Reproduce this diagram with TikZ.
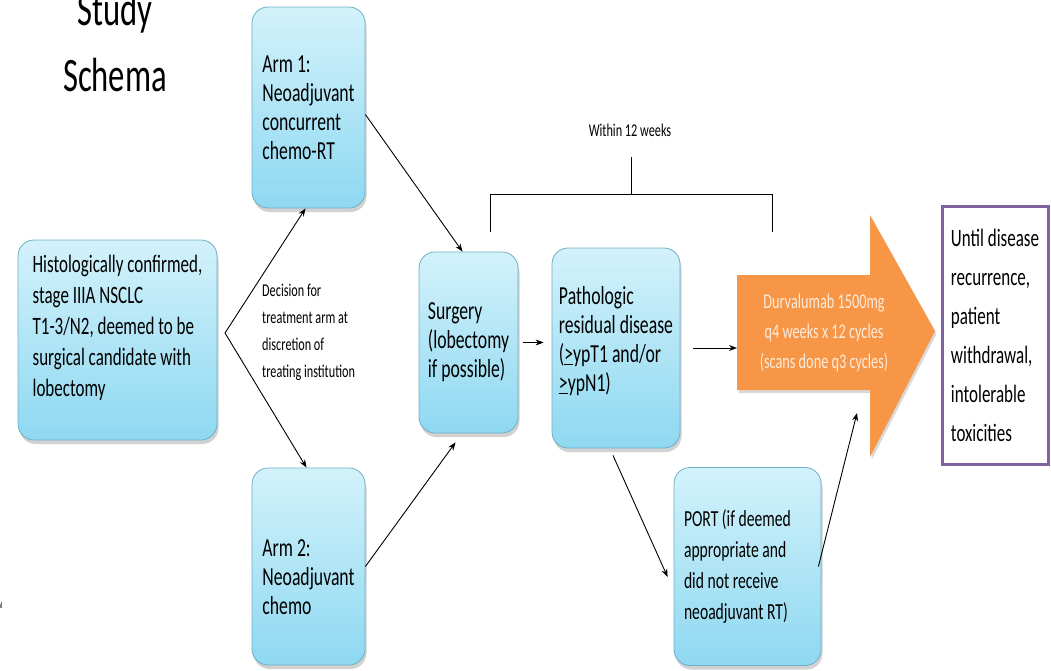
\documentclass[tikz,border=0pt]{standalone}
\usepackage{fontspec}
\setmainfont{Carlito}[FakeStretch=0.68]
\usetikzlibrary{arrows.meta,shadows}
\definecolor{boxtop}{HTML}{D3F2FB}
\definecolor{boxbot}{HTML}{8ED8F1}
\definecolor{boxline}{HTML}{6FAFC6}
\definecolor{durvorange}{HTML}{F79646}
\definecolor{durvtext}{HTML}{FDEBDC}
\definecolor{endline}{HTML}{7F62A0}
\newcommand\myfs[2]{\fontsize{#1}{#2}\selectfont}
\tikzset{
  flowbox/.style={rounded corners=16pt, draw=boxline, line width=0.8pt,
    top color=boxtop, bottom color=boxbot,
    drop shadow={shadow xshift=1.5pt, shadow yshift=-4pt, opacity=0.3, fill=black!60},
    align=flush left, inner sep=0pt},
  arr/.style={-{Stealth[length=8pt,width=6pt]}, line width=0.9pt},
  plain/.style={line width=0.9pt},
}
\begin{document}
\begin{tikzpicture}[x=1pt,y=-1pt]
\useasboundingbox (0,0) rectangle (1051,670);
% title
\node[anchor=base, align=center, inner sep=0pt, font=\myfs{48}{66}] (title) at (115,91) {Study\\Schema};
\node[anchor=west, inner sep=0pt, font=\myfs{9}{9}] (frag) at (-2,605) {al};
% boxes
\node[flowbox, minimum width=199pt, minimum height=200pt, font=\myfs{25}{31}] (start) at (117.5,340)
  {Histologically confirmed,\\stage IIIA NSCLC\\T1-3/N2, deemed to be\\surgical candidate with\\lobectomy\rule[-28pt]{0pt}{0pt}};
\node[flowbox, minimum width=113pt, minimum height=201pt, font=\myfs{26}{29}] (arm1) at (308.5,107.5)
  {Arm 1:\\Neoadjuvant\\concurrent\\chemo-RT};
\node[flowbox, minimum width=113pt, minimum height=197pt, font=\myfs{26}{29}] (arm2) at (308.5,566.5)
  {\rule{0pt}{38pt}Arm 2:\\Neoadjuvant\\chemo};
\node[flowbox, minimum width=99pt, minimum height=181pt, font=\myfs{26}{29}] (surg) at (468.5,342.5)
  {Surgery\\(lobectomy\\if possible)};
\node[flowbox, minimum width=128pt, minimum height=200pt, font=\myfs{26}{29}] (path) at (616,348)
  {Pathologic\\residual disease\\(\underline{>}ypT1 and/or\\\underline{>}ypN1)\rule[-18pt]{0pt}{0pt}};
\node[flowbox, minimum width=147pt, minimum height=198pt, text width=127pt, font=\myfs{23}{31}] (port) at (747.5,566.5)
  {PORT (if deemed\\appropriate and\\did not receive\\neoadjuvant RT)};
\node[draw=endline, line width=3pt, fill=white, minimum width=106pt, minimum height=258pt,
  align=left, inner sep=0pt, font=\myfs{25}{39}] (endbox) at (995,335)
  {Until disease\\recurrence,\\patient\\withdrawal,\\intolerable\\toxicities};
% decision text
\node[anchor=west, align=left, inner sep=0pt, font=\myfs{18}{27}] (decision) at (262,332)
  {Decision for\\treatment arm at\\discretion of\\treating institution};
% orange arrow
\fill[durvorange, drop shadow={shadow xshift=1.5pt, shadow yshift=-3pt, opacity=0.25, fill=black!60}]
  (737,275) -- (870,275) -- (870,215) -- (935,331) -- (870,457) -- (870,390) -- (737,390) -- cycle;
\node[align=center, inner sep=0pt, text=durvtext, font=\myfs{21}{30}] (durv) at (824,333)
  {Durvalumab 1500mg\\q4 weeks x 12 cycles\\(scans done q3 cycles)};
\coordinate (durvL) at (737,348);
\coordinate (durvB) at (857,413);
% bracket
\node[inner sep=0pt, font=\myfs{18}{22}] (within) at (630,130) {Within 12 weeks};
\coordinate (bl) at (490,232);
\coordinate (blt) at (490,194);
\coordinate (brt) at (772,194);
\coordinate (br) at (772,232);
\coordinate (bmid) at (631,194);
\coordinate (btop) at (631,157);
\draw[plain] (bl) -- (blt) -- (brt) -- (br);
\draw[plain] (bmid) -- (btop);
% connectors
\coordinate (apex) at (225,333);
\draw[arr] (apex) -- ([xshift=-3pt]arm1.south);
\draw[arr] (apex) -- ([xshift=-2pt]arm2.north);
\draw[arr] ([yshift=-7pt]arm1.east) -- ([xshift=-6pt]surg.north);
\draw[arr] (arm2.east) -- ([xshift=-13pt,yshift=-9pt]surg.south);
\draw[arr] ([xshift=5pt]surg.east) -- ([xshift=-8pt]surg.east -| path.west);
\draw[arr] ([xshift=13pt]path.east) -- (durvL);
\draw[arr] ([xshift=-3pt,yshift=-7pt]path.south) -- ([xshift=-6pt,yshift=-10.5pt]port.west);
\draw[arr] ([xshift=-3pt]port.east) -- (durvB);
\end{tikzpicture}
\end{document}
